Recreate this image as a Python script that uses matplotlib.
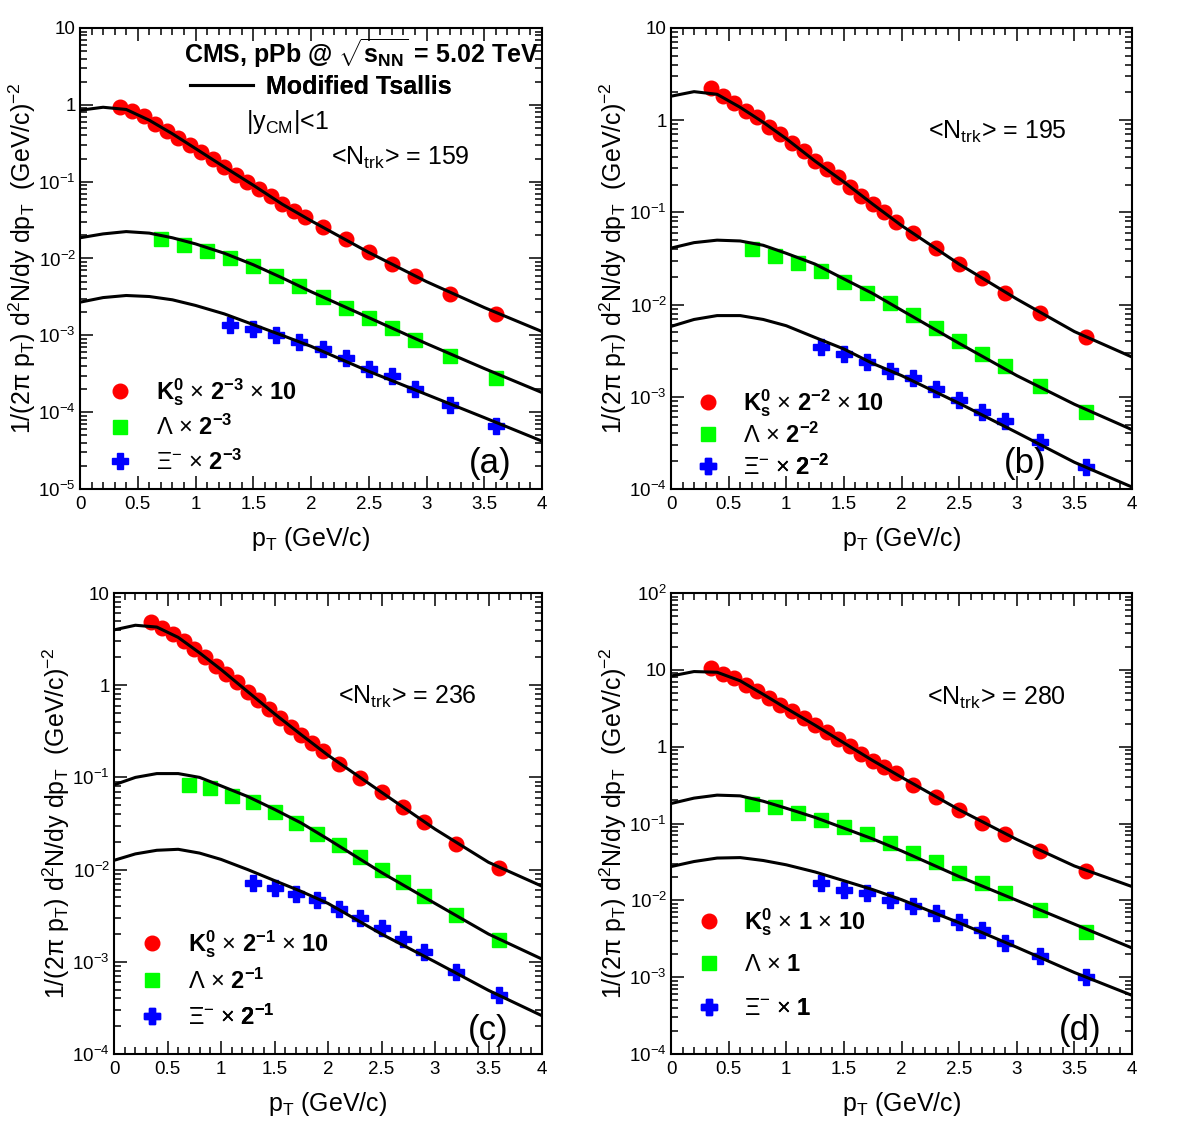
import numpy as np
import matplotlib
matplotlib.use("Agg")
import matplotlib.pyplot as plt
from matplotlib.ticker import MultipleLocator, LogLocator, FuncFormatter, NullFormatter

plt.rcParams["font.family"] = ["Liberation Sans", "DejaVu Sans"]
plt.rcParams["mathtext.fontset"] = "custom"
plt.rcParams["mathtext.rm"] = "Liberation Sans"
plt.rcParams["mathtext.it"] = "Liberation Sans:italic"
plt.rcParams["mathtext.bf"] = "Liberation Sans:bold"
plt.rcParams["mathtext.sf"] = "Liberation Sans"
plt.rcParams["mathtext.default"] = "regular"

# --- data -----------------------------------------------------------------
k0s_pt = [0.35, 0.45, 0.55, 0.65, 0.75, 0.85, 0.95, 1.05, 1.15, 1.25, 1.35, 1.45,
          1.55, 1.65, 1.75, 1.85, 1.95, 2.1, 2.3, 2.5, 2.7, 2.9, 3.2, 3.6]
lam_pt = [0.7, 0.9, 1.1, 1.3, 1.5, 1.7, 1.9, 2.1, 2.3, 2.5, 2.7, 2.9, 3.2, 3.6]
xi_pt = [1.3, 1.5, 1.7, 1.9, 2.1, 2.3, 2.5, 2.7, 2.9, 3.2, 3.6]
fit_pt = [0, 0.2, 0.4, 0.6, 0.8, 1.0, 1.25, 1.5, 1.75, 2.0, 2.5, 3.0, 3.5, 4.0]

# (a) <Ntrk> = 159
k0s_a = [0.95, 0.83, 0.71, 0.56, 0.46, 0.37, 0.30, 0.245, 0.195, 0.155, 0.123, 0.100,
         0.081, 0.065, 0.051, 0.042, 0.035, 0.026, 0.0178, 0.012, 0.0085, 0.006, 0.0035, 0.0019]
lam_a = [0.018, 0.015, 0.0126, 0.0102, 0.0079, 0.006, 0.0044, 0.0032, 0.0023, 0.00166,
         0.00123, 0.00087, 0.00054, 0.00028]
xi_a = [0.00138, 0.0012, 0.00102, 0.00081, 0.00066, 0.0005, 0.00037, 0.0003, 0.0002,
        0.000123, 0.000066]
fit_k0s_a = [0.85, 0.93, 0.87, 0.63, 0.42, 0.27, 0.155, 0.090, 0.051, 0.031, 0.012, 0.005,
             0.0023, 0.00112]
fit_lam_a = [0.0186, 0.0209, 0.0224, 0.0214, 0.0186, 0.0155, 0.0117, 0.0083, 0.0056, 0.0037,
             0.0017, 0.00078, 0.00037, 0.00018]
fit_xi_a = [0.0027, 0.0031, 0.0033, 0.0032, 0.0029, 0.00245, 0.0019, 0.00138, 0.001, 0.00072,
            0.00034, 0.00017, 0.000085, 0.000042]

# (b) <Ntrk> = 195
k0s_b = [2.24, 1.82, 1.55, 1.26, 1.07, 0.85, 0.71, 0.56, 0.46, 0.36, 0.295, 0.24, 0.19,
         0.151, 0.123, 0.100, 0.079, 0.060, 0.041, 0.0275, 0.0195, 0.0135, 0.0081, 0.0045]
lam_b = [0.040, 0.034, 0.028, 0.023, 0.0174, 0.0135, 0.0105, 0.0078, 0.0056, 0.0040,
         0.0029, 0.00214, 0.00132, 0.00068]
xi_b = [0.0035, 0.0029, 0.0024, 0.0019, 0.00158, 0.00123, 0.00093, 0.00069, 0.00054,
        0.00032, 0.000174]
fit_k0s_b = [1.82, 2.04, 1.91, 1.38, 0.95, 0.63, 0.36, 0.214, 0.123, 0.072, 0.0275, 0.0115,
             0.0051, 0.0027]
fit_lam_b = [0.041, 0.047, 0.050, 0.049, 0.044, 0.036, 0.0275, 0.019, 0.0132, 0.0087, 0.0038,
             0.0017, 0.00083, 0.00044]
fit_xi_b = [0.0058, 0.0069, 0.0076, 0.0076, 0.0069, 0.0059, 0.0044, 0.0033, 0.0023, 0.0017,
            0.00085, 0.00041, 0.000195, 0.000105]

# (c) <Ntrk> = 236
k0s_c = [4.79, 4.17, 3.55, 3.02, 2.45, 2.0, 1.62, 1.32, 1.07, 0.85, 0.69, 0.55, 0.44, 0.355,
         0.29, 0.234, 0.195, 0.141, 0.098, 0.069, 0.048, 0.033, 0.019, 0.0105]
lam_c = [0.083, 0.076, 0.063, 0.054, 0.042, 0.032, 0.0245, 0.0186, 0.0138, 0.0098, 0.0074,
         0.0052, 0.0032, 0.00174]
xi_c = [0.0072, 0.0063, 0.0055, 0.0047, 0.0037, 0.003, 0.0023, 0.00178, 0.00129, 0.00078,
        0.00044]
fit_k0s_c = [3.98, 4.47, 4.27, 3.3, 2.24, 1.48, 0.85, 0.49, 0.29, 0.174, 0.069, 0.0275,
             0.012, 0.0066]
fit_lam_c = [0.083, 0.100, 0.110, 0.110, 0.100, 0.081, 0.062, 0.045, 0.032, 0.0214, 0.0093,
             0.0043, 0.002, 0.00107]
fit_xi_c = [0.0126, 0.0148, 0.0162, 0.0166, 0.0151, 0.0129, 0.01, 0.0076, 0.0058, 0.0043,
            0.002, 0.001, 0.00049, 0.00026]

# (d) <Ntrk> = 280
k0s_d = [10.5, 8.7, 7.8, 6.3, 5.25, 4.27, 3.47, 2.88, 2.34, 1.9, 1.55, 1.26, 1.01, 0.81,
         0.66, 0.55, 0.45, 0.316, 0.219, 0.148, 0.102, 0.074, 0.044, 0.024]
lam_d = [0.182, 0.162, 0.135, 0.112, 0.091, 0.072, 0.055, 0.041, 0.0316, 0.0224, 0.0166,
         0.0123, 0.0074, 0.0039]
xi_d = [0.0166, 0.0138, 0.0123, 0.010, 0.0085, 0.0068, 0.0052, 0.0041, 0.0028, 0.0019,
        0.00102]
fit_k0s_d = [8.3, 9.5, 9.3, 7.2, 4.8, 3.16, 1.9, 1.12, 0.66, 0.40, 0.151, 0.062, 0.028, 0.0151]
fit_lam_d = [0.182, 0.214, 0.234, 0.229, 0.195, 0.158, 0.120, 0.087, 0.063, 0.044, 0.0204,
             0.010, 0.0049, 0.0024]
fit_xi_d = [0.0275, 0.032, 0.0355, 0.036, 0.033, 0.029, 0.0234, 0.018, 0.0138, 0.0102,
            0.0051, 0.00245, 0.00115, 0.00058]

panel_letters = ["(a)", "(b)", "(c)", "(d)"]
ntrk_values = [159, 195, 236, 280]
scale_labels = ["2^{-3}", "2^{-2}", "2^{-1}", "1"]
y_limits = [(1e-5, 10), (1e-4, 10), (1e-4, 10), (1e-4, 100)]

# --- layout (pixels in the 1182x1134 canvas) --------------------------------
W, H = 1182, 1134
axes_px = [(80, 28, 542, 489), (671, 28, 1132, 489),
           (114, 593, 542, 1054), (671, 593, 1132, 1054)]
ntrk_pos = [(0.693, 0.718), (0.707, 0.774), (0.685, 0.774), (0.707, 0.772)]
letter_pos = [(0.887, 0.056), (0.768, 0.056), (0.874, 0.052), (0.887, 0.052)]
legend_marker_x = [0.087, 0.080, 0.089, 0.082]
legend_rows = [(0.210, 0.134, 0.059), (0.187, 0.117, 0.048),
               (0.239, 0.158, 0.080), (0.286, 0.193, 0.097)]

data = [(k0s_a, lam_a, xi_a, fit_k0s_a, fit_lam_a, fit_xi_a),
        (k0s_b, lam_b, xi_b, fit_k0s_b, fit_lam_b, fit_xi_b),
        (k0s_c, lam_c, xi_c, fit_k0s_c, fit_lam_c, fit_xi_c),
        (k0s_d, lam_d, xi_d, fit_k0s_d, fit_lam_d, fit_xi_d)]

LEG_FS = 17


def y_fmt(v, pos):
    e = int(round(np.log10(v)))
    if e == 0:
        return "1"
    if e == 1:
        return "10"
    return r"$10^{%d}$" % e


def add_entry(ax, handle, label, marker_x, y, fs=LEG_FS, hl=1.0, weight="normal", pad=1.0):
    # one legend per row so every row sits where it does in the original
    fs_px = fs * 100 / 72
    width = ax.get_position().width * W
    left = marker_x - hl * fs_px / 2 / width
    leg = ax.legend([handle], [label], loc="center left", bbox_to_anchor=(left, y),
                    frameon=False, borderpad=0, borderaxespad=0, handlelength=hl,
                    handletextpad=pad, prop={"size": fs, "weight": weight})
    ax.add_artist(leg)
    return leg


fig = plt.figure(figsize=(W / 100, H / 100), dpi=100)

for i in range(4):
    l, t, r, b = axes_px[i]
    ax = fig.add_axes([l / W, 1 - b / H, (r - l) / W, (b - t) / H])
    k0s, lam, xi, fk, fl, fx = data[i]

    hk, = ax.plot(k0s_pt, k0s, ls="none", marker="o", ms=10.5, color="#ff0000", mec="#ff0000", zorder=2)
    hl_, = ax.plot(lam_pt, lam, ls="none", marker="s", ms=10, color="#00ff00", mec="#00ff00", zorder=2)
    hx, = ax.plot(xi_pt, xi, ls="none", marker="P", ms=11.5, color="#0000ff", mec="#0000ff", zorder=2)
    fit_line, = ax.plot(fit_pt, fk, color="black", lw=2.2, zorder=3)
    ax.plot(fit_pt, fl, color="black", lw=2.2, zorder=3)
    ax.plot(fit_pt, fx, color="black", lw=2.2, zorder=3)

    ax.set_yscale("log")
    ax.set_xlim(0, 4)
    ax.set_ylim(*y_limits[i])
    ax.xaxis.set_major_locator(MultipleLocator(0.5))
    ax.xaxis.set_minor_locator(MultipleLocator(0.1))
    ax.xaxis.set_major_formatter(FuncFormatter(lambda v, p: "%g" % v))
    ax.yaxis.set_major_locator(LogLocator(base=10, numticks=20))
    ax.yaxis.set_minor_locator(LogLocator(base=10, subs=np.arange(2, 10), numticks=100))
    ax.yaxis.set_major_formatter(FuncFormatter(y_fmt))
    ax.yaxis.set_minor_formatter(NullFormatter())
    ax.tick_params(which="both", direction="in", top=True, right=True, width=1.1,
                   labelsize=13.5)
    ax.tick_params(which="major", length=9.4)
    ax.tick_params(which="minor", length=4.7)
    ax.tick_params(axis="x", which="major", pad=5)
    ax.tick_params(axis="y", which="major", pad=3)
    for sp in ax.spines.values():
        sp.set_linewidth(1.5)

    w_px = r - l
    h_px = b - t
    ax.set_xlabel(r"p$_{T}$ (GeV/c)", fontsize=18)
    ax.xaxis.set_label_coords(0.5, -36 / h_px)
    ax.set_ylabel(r"1/(2$\pi$ p$_{T}$) d$^{2}$N/dy dp$_{T}$  (GeV/c)$^{-2}$", fontsize=18)
    ax.yaxis.set_label_coords(-42 / w_px, 0.5)

    ax.text(*ntrk_pos[i], r"<N$_{trk}$> = %d" % ntrk_values[i], transform=ax.transAxes,
            ha="center", va="center", fontsize=18)
    ax.text(*letter_pos[i], panel_letters[i], transform=ax.transAxes,
            ha="center", va="center", fontsize=25)

    s = scale_labels[i]
    mx = legend_marker_x[i]
    rows = legend_rows[i]
    add_entry(ax, hk, r"$\mathbf{K_s^0}$ $\times$ $\mathbf{%s}$ $\times$ $\mathbf{10}$" % s, mx, rows[0])
    add_entry(ax, hl_, r"$\Lambda$ $\times$ $\mathbf{%s}$" % s, mx, rows[1])
    add_entry(ax, hx, r"$\Xi^{-}$ $\times$ $\mathbf{%s}$" % s, mx, rows[2])

    if i == 0:
        ax.text(0.61, 0.946, r"CMS, pPb @ $\mathbf{\sqrt{s_{NN}}}$ = 5.02 TeV",
                transform=ax.transAxes, ha="center", va="center", fontsize=18,
                fontweight="bold")
        hl_fit = 63 / (18 * 100 / 72)
        add_entry(ax, fit_line, "Modified Tsallis", (190 - 80) / w_px + hl_fit * 25 / 2 / w_px,
                  0.872, fs=18, hl=hl_fit, weight="bold", pad=0.5)
        ax.text(0.448, 0.796, r"|y$_{CM}$|<1", transform=ax.transAxes,
                ha="center", va="center", fontsize=18)

fig.savefig("out.png", dpi=100)
